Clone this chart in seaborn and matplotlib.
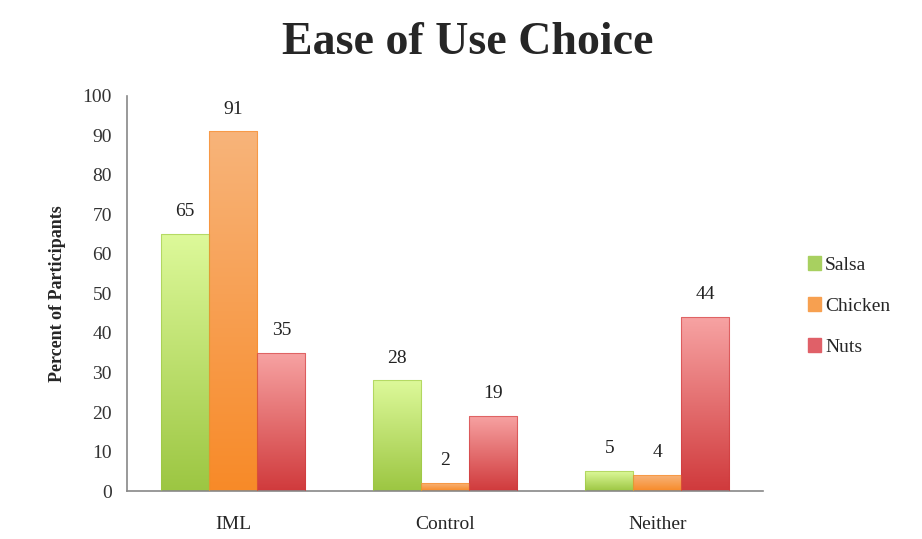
"""Ease of Use Choice grouped bar chart"""

import numpy as np
import matplotlib.pyplot as plt
import matplotlib.colors as mcolors
import pandas as pd
import seaborn as sns

categories = ["IML", "Control", "Neither"]
foods = ["Salsa", "Chicken", "Nuts"]
salsa = [65, 28, 5]
chicken = [91, 2, 4]
nuts = [35, 19, 44]

# top (light) and bottom (dark) colour of each gradient
top_colors = {"Salsa": "#ddf99a", "Chicken": "#f8b47a", "Nuts": "#f7a3a3"}
bottom_colors = {"Salsa": "#9cc642", "Chicken": "#f78a28", "Nuts": "#d03a3c"}
legend_colors = {"Salsa": "#a8d060", "Chicken": "#f7a050", "Nuts": "#e06068"}

df = pd.DataFrame(
    {
        "Group": categories * 3,
        "Food": [f for f in foods for _ in categories],
        "Percent": salsa + chicken + nuts,
    }
)

sns.set_style("white")
plt.rcParams["font.family"] = ["Liberation Serif", "DejaVu Serif"]

fig = plt.figure(figsize=(9.22, 5.39), dpi=100)
ax = fig.add_axes([0.138, 0.089, 0.69, 0.733])

sns.barplot(
    data=df, x="Group", y="Percent", hue="Food", order=categories,
    hue_order=foods, palette=legend_colors, width=0.68, gap=0,
    legend=False, ax=ax, edgecolor="none",
)

# paint vertical gradients inside every bar
grad = np.linspace(1, 0, 256).reshape(-1, 1)
for container, food in zip(ax.containers, foods):
    cmap = mcolors.LinearSegmentedColormap.from_list(
        food, [bottom_colors[food], top_colors[food]]
    )
    for bar, val in zip(container, df[df.Food == food].Percent):
        x0, w, h = bar.get_x(), bar.get_width(), bar.get_height()
        bar.set_facecolor("none")
        img = ax.imshow(grad, cmap=cmap, aspect="auto", extent=[x0, x0 + w, 0, h],
                        zorder=2, vmin=0, vmax=1)
        img.set_clip_path(bar)
        ax.add_patch(plt.Rectangle((x0, 0), w, h, fill=False,
                                   edgecolor=bottom_colors[food], lw=0.8, alpha=0.6, zorder=3))
        ax.text(x0 + w / 2, h + 3.5, f"{val}", ha="center", va="bottom",
                fontsize=14, color="#222222")

ax.set_xlim(-0.5, 2.5)
ax.set_ylim(0, 100)
ax.set_yticks(range(0, 101, 10))
ax.set_xticks([0, 1, 2])
ax.set_xticklabels(categories)
ax.set_xticks([0.5, 1.5, 2.5], minor=True)
ax.tick_params(axis="x", which="major", length=0, pad=18, labelsize=14)
ax.tick_params(axis="x", which="minor", length=4, color="#888888", direction="out")
ax.tick_params(axis="y", length=5, color="#888888", direction="out", labelsize=14,
               labelcolor="#333333", pad=6)
ax.set_xlabel("")
ax.set_ylabel("Percent of Participants", fontsize=13, fontweight="bold", labelpad=12)
for side in ["top", "right"]:
    ax.spines[side].set_visible(False)
for side in ["left", "bottom"]:
    ax.spines[side].set_color("#888888")
    ax.spines[side].set_linewidth(1.2)

fig.text(0.507, 0.92, "Ease of Use Choice", ha="center", va="center",
         fontsize=33, fontweight="bold")

handles = [plt.Rectangle((0, 0), 1, 1, color=legend_colors[f]) for f in foods]
fig.legend(handles, foods, loc="center left", bbox_to_anchor=(0.857, 0.432),
           frameon=False, fontsize=14, handlelength=0.7, handleheight=0.7,
           handletextpad=0.2, labelspacing=1.2)

fig.savefig("out.png", dpi=100)
